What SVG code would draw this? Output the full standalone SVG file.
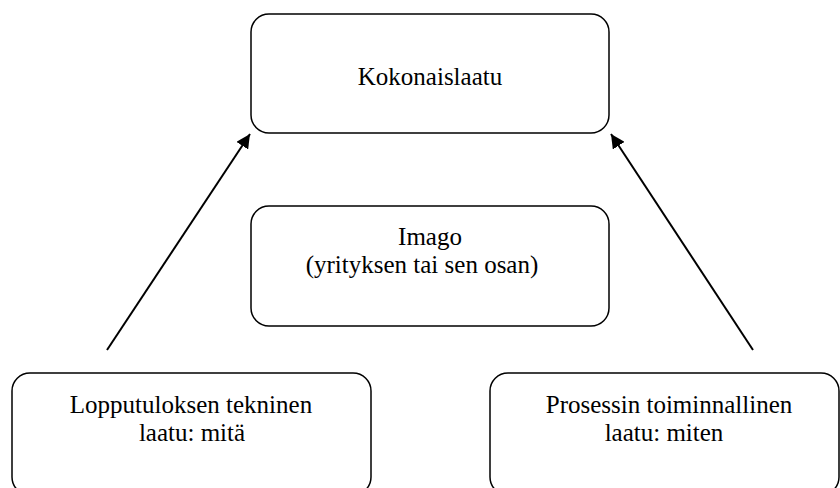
<svg xmlns="http://www.w3.org/2000/svg" width="840" height="488" viewBox="0 0 840 488">
<style>
.box{fill:none;stroke:#000;stroke-width:1.5}
.t{font-family:'Liberation Serif','Times New Roman','DejaVu Serif',serif;font-size:25px;fill:#000;text-anchor:middle}
.c{stroke:#000;stroke-width:2;fill:none}
</style>
<defs>
<marker id="ah" viewBox="0 0 10 10" refX="10" refY="5" markerWidth="7" markerHeight="7" markerUnits="strokeWidth" orient="auto">
<path d="M0,0 L10,5 L0,10 z" fill="#000"/>
</marker>
</defs>
<rect width="840" height="488" fill="#fff"/>
<g id="kokonaislaatu">
<rect class="box" x="251" y="14" width="358" height="119" rx="18"/>
<text class="t" x="430" y="85" font-family="Liberation Serif, serif">Kokonaislaatu</text>
</g>
<g id="imago">
<rect class="box" x="251" y="206" width="358" height="120" rx="18"/>
<text class="t" x="430" y="245" font-family="Liberation Serif, serif">Imago</text>
<text class="t" x="422" y="273" font-family="Liberation Serif, serif">(yrityksen tai sen osan)</text>
</g>
<g id="lopputulos">
<rect class="box" x="12" y="373" width="359" height="122" rx="18"/>
<text class="t" x="191" y="413" font-family="Liberation Serif, serif">Lopputuloksen tekninen</text>
<text class="t" x="192" y="441" font-family="Liberation Serif, serif">laatu: mitä</text>
</g>
<g id="prosessi">
<rect class="box" x="490" y="373" width="349" height="122" rx="18"/>
<text class="t" x="669" y="413" font-family="Liberation Serif, serif">Prosessin toiminnallinen</text>
<text class="t" x="664" y="441" font-family="Liberation Serif, serif">laatu: miten</text>
</g>
<g id="connectors">
<line class="c" x1="107" y1="350" x2="250" y2="134" marker-end="url(#ah)"/>
<line class="c" x1="753" y1="350" x2="611" y2="134" marker-end="url(#ah)"/>
</g>
</svg>
